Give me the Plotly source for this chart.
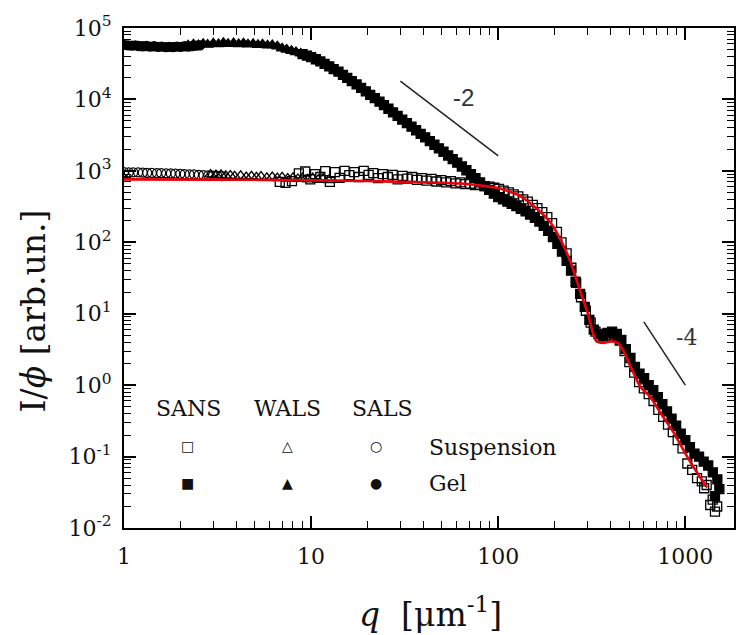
import numpy as np
import plotly.graph_objects as go

# ---- Gel (filled symbols) ----
gel_sals_q = [1.00, 1.05, 1.10, 1.15, 1.20, 1.26, 1.32, 1.38, 1.45, 1.52, 1.59,
              1.67, 1.75, 1.83, 1.92, 2.01, 2.11, 2.21, 2.32, 2.43, 2.55]
gel_sals_I = [58000, 57000, 56500, 57000, 56000, 55500, 56000, 55000, 55500, 54500, 55000,
              54000, 54500, 54000, 55000, 54500, 55500, 55000, 56000, 56500, 57000]

gel_wals_q = [2.2, 2.35, 2.5, 2.65, 2.8, 3.0, 3.2, 3.4, 3.6, 3.85, 4.1, 4.35, 4.6, 4.9,
              5.2, 5.5, 5.85, 6.2, 6.6, 7.0, 7.4, 7.85, 8.3, 8.8, 9.3, 9.9, 10.5, 11.1]
gel_wals_I = [57000, 59000, 57500, 60000, 58500, 61000, 59500, 62000, 60000, 61500, 59500,
              61000, 59000, 60000, 58000, 59000, 57000, 57500, 55500, 52000, 50000, 48000,
              46000, 44000, 42000, 40000, 37500, 34500]

gel_sans_q = [9.0, 9.5, 10.0, 10.6, 11.2, 11.8, 12.5, 13.2, 14.0, 14.8, 15.6, 16.5, 17.5,
              18.5, 19.6, 20.7, 21.9, 23.2, 24.5, 25.9, 27.4, 29.0, 30.7, 32.5, 34.4, 36.4,
              38.5, 40.7, 43.1, 45.6, 48.2, 51.0, 54.0, 57.1, 60.4, 63.9, 67.6, 71.5, 75.6,
              80.0, 84.6, 89.5, 94.7, 100, 106, 112, 118, 125, 132, 140, 148, 157, 166, 175,
              185, 196, 207, 219, 232, 245, 259, 274, 290, 307, 324, 343, 363, 384, 406, 430,
              455, 481, 509, 538, 569, 602, 637, 674, 713, 754, 798, 844, 893, 945, 1000,
              1058, 1119, 1184, 1253, 1325, 1402, 1440, 1483, 1520]
gel_sans_I = [43000, 41000, 39000, 36500, 34000, 31500, 29000, 26500, 24500, 22000, 20000,
              18000, 16200, 14500, 13000, 11600, 10400, 9300, 8300, 7400, 6600, 5900, 5200,
              4650, 4150, 3700, 3300, 2950, 2600, 2320, 2070, 1850, 1640, 1460, 1300, 1150,
              1020, 900, 790, 690, 610, 540, 480, 430, 400, 370, 345, 320, 295, 270, 245, 220,
              195, 170, 145, 118, 95, 74, 55, 40, 28, 19, 12.5, 8.2, 6.0, 5.2, 5.0, 5.4, 5.6,
              5.2, 4.3, 3.2, 2.4, 1.8, 1.45, 1.25, 1.0, 0.85, 0.68, 0.54, 0.43, 0.34, 0.27,
              0.21, 0.17, 0.135, 0.11, 0.1, 0.085, 0.075, 0.06, 0.028, 0.048, 0.035]

# ---- Suspension (open symbols) ----
sus_sals_q = [1.00, 1.06, 1.12, 1.19, 1.26, 1.33, 1.41, 1.50, 1.58, 1.68, 1.78, 1.88,
              2.00, 2.11, 2.24, 2.37, 2.51, 2.66, 2.82, 2.99, 3.16, 3.35]
sus_sals_I = [960, 955, 950, 950, 945, 940, 935, 930, 930, 925, 920, 915,
              910, 900, 895, 890, 880, 870, 865, 860, 850, 845]

sus_wals_q = [2.9, 3.1, 3.3, 3.5, 3.7, 3.9, 4.2, 4.5, 4.8, 5.1, 5.4, 5.8, 6.2, 6.6,
              7.0, 7.5, 8.0, 8.5, 9.0, 9.6, 10.2, 10.9, 11.6, 12.4]
sus_wals_I = [890, 870, 880, 850, 860, 840, 850, 820, 840, 810, 830, 800, 820, 790,
              810, 780, 800, 770, 790, 760, 790, 750, 780, 740]

sus_sans_q = [6.8, 7.3, 7.9, 8.6, 9.3, 9.9, 10.5, 11.2, 11.9, 12.6, 13.4, 14.2, 15.1, 16.0,
              17.0, 18.0, 19.1, 20.3, 21.5, 22.8, 24.2, 25.7, 27.3, 29.0, 30.8, 32.7, 34.7,
              36.8, 39.0, 41.4, 44.0, 46.7, 49.6, 52.6, 55.8, 59.2, 62.8, 66.7, 70.8, 75.1,
              79.7, 84.6, 89.8, 95.3, 101, 107, 114, 121, 128, 136, 144, 153, 162, 172, 183,
              194, 206, 218, 232, 246, 261, 277, 294, 312, 331, 351, 373, 396, 420, 446, 473,
              502, 533, 566, 600, 637, 676, 717, 761, 808, 857, 910, 966, 1025, 1088, 1155,
              1225, 1260, 1300, 1358, 1400, 1440, 1480]
sus_sans_I = [700, 680, 720, 920, 980, 760, 900, 820, 990, 700, 960, 800, 1000, 870,
              960, 820, 1000, 880, 930, 790, 900, 820, 880, 760, 850, 780, 820,
              750, 790, 730, 770, 710, 740, 690, 720, 670, 690, 650, 660, 630,
              640, 610, 600, 580, 560, 530, 500, 470, 440, 400, 370, 335, 300, 265, 225,
              185, 140, 100, 70, 44, 27, 17, 11, 7.5, 5.6, 4.8, 4.9, 5.1, 4.9, 4.2, 3.0,
              2.1, 1.5, 1.1, 0.9, 0.75, 0.6, 0.45, 0.36, 0.28, 0.22, 0.17, 0.13, 0.08, 0.065,
              0.05, 0.045, 0.036, 0.04, 0.021, 0.025, 0.017, 0.02]

# ---- Model fit (red curve) ----
fit_q = [1, 3, 10, 20, 30, 50, 70, 100, 128, 157, 191, 216, 245, 276, 301, 320, 335,
         362, 399, 435, 474, 510, 545, 576, 651, 736, 873, 1026, 1202, 1309]
fit_I = [760, 755, 740, 720, 705, 680, 650, 574, 458, 311, 186, 107, 51, 19.5, 10.2, 5.5,
         4.1, 3.9, 4.1, 3.9, 2.8, 1.8, 1.25, 0.94, 0.68, 0.41, 0.21, 0.098, 0.051, 0.037]

# ---- Power-law guides ----
slope2_q = [30, 100]
slope2_I = [18000, 1620]
slope4_q = [600, 1000]
slope4_I = [7.7, 1.0]

x_ticks = [1, 10, 100, 1000]
x_ticktext = ["1", "10", "100", "1000"]
y_exps = [-2, -1, 0, 1, 2, 3, 4, 5]

SERIF = "DejaVu Serif"
INK = "#111111"

fig = go.Figure()

def add_points(q, I, symbol, size=9):
    fig.add_trace(go.Scatter(
        x=q, y=I, mode="markers", showlegend=False, hoverinfo="skip",
        marker=dict(symbol=symbol, size=size, color="black",
                    line=dict(color="black", width=1.3))))

add_points(gel_sals_q, gel_sals_I, "circle")
add_points(gel_wals_q, gel_wals_I, "triangle-up", 10)
add_points(gel_sans_q, gel_sans_I, "square")
add_points(sus_sals_q, sus_sals_I, "circle-open")
add_points(sus_wals_q, sus_wals_I, "triangle-up-open", 10)
add_points(sus_sans_q, sus_sans_I, "square-open")

fig.add_trace(go.Scatter(x=fit_q, y=fit_I, mode="lines", showlegend=False, hoverinfo="skip",
                         line=dict(color="#e8000b", width=2.6, shape="spline", smoothing=0.6)))

for q, I in ((slope2_q, slope2_I), (slope4_q, slope4_I)):
    fig.add_trace(go.Scatter(x=q, y=I, mode="lines", showlegend=False, hoverinfo="skip",
                             line=dict(color="#222222", width=1.5)))

# slope labels (log axes take log10 positions)
fig.add_annotation(x=np.log10(65), y=np.log10(10500), text="-2", showarrow=False,
                   xanchor="center", yanchor="middle",
                   font=dict(family="Liberation Sans", size=24, color="#333333"))
fig.add_annotation(x=np.log10(1010), y=np.log10(4.6), text="-4", showarrow=False,
                   xanchor="center", yanchor="middle",
                   font=dict(family=SERIF, size=22, color="#333333"))

axis_common = dict(
    type="log", showgrid=False, zeroline=False,
    showline=True, linecolor="black", linewidth=2, mirror="allticks",
    ticks="inside", ticklen=12, tickwidth=1.5, tickcolor="black",
    tickfont=dict(family=SERIF, size=22, color=INK),
)

x_minor = [m * 10 ** e for e in range(0, 4) for m in range(2, 10)]
y_minor = [m * 10.0 ** e for e in range(-2, 5) for m in range(2, 10)]

fig.update_xaxes(**axis_common, range=[0, np.log10(1820)],
                 tickvals=x_ticks, ticktext=x_ticktext, ticklabelstandoff=8,
                 minor=dict(tickvals=x_minor, ticks="inside", ticklen=7,
                            tickwidth=1.2, tickcolor="black", showgrid=False))
fig.update_yaxes(**axis_common, range=[-2, 5],
                 tickvals=[10.0 ** e for e in y_exps],
                 ticktext=[f"10<sup>{e}</sup>" for e in y_exps],
                 ticklabelstandoff=6,
                 minor=dict(tickvals=y_minor, ticks="inside", ticklen=7,
                            tickwidth=1.2, tickcolor="black", showgrid=False))

def paper_text(x, y, text, size, family=SERIF, xanchor="center", angle=0):
    fig.add_annotation(xref="paper", yref="paper", x=x, y=y, text=text,
                       showarrow=False, xanchor=xanchor, yanchor="middle",
                       textangle=angle, font=dict(family=family, size=size, color=INK))

# axis titles
paper_text(-0.150, 0.434, "I/<i>ϕ</i> [arb.un.]", 33, angle=-90)
paper_text(0.503, -0.168, "<i>q</i>  [μm<sup>-1</sup>]", 33)

# symbol key
for label, xp in (("SANS", 0.106), ("WALS", 0.268), ("SALS", 0.423)):
    paper_text(xp, 0.24, label, 22)
for open_g, filled_g, xp in (("□", "■", 0.1046), ("△", "▲", 0.268), ("○", "●", 0.413)):
    paper_text(xp, 0.164, open_g, 14, family="DejaVu Sans")
    paper_text(xp, 0.09, filled_g, 14, family="DejaVu Sans")
for label, yp in (("Suspension", 0.162), ("Gel", 0.09)):
    paper_text(0.497, yp, label, 22, xanchor="left")

fig.update_layout(width=737, height=635,
                  margin=dict(l=124, r=1, t=28, b=107),
                  paper_bgcolor="white", plot_bgcolor="white")

fig.write_html("out.html")
